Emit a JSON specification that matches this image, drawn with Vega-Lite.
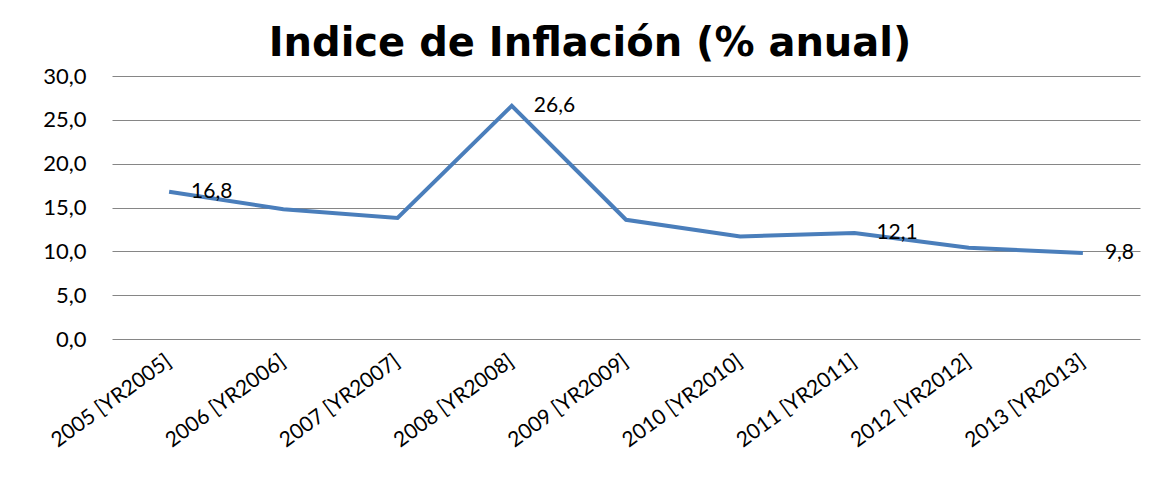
{
  "$schema": "https://vega.github.io/schema/vega-lite/v6.json",
  "width": 1028,
  "height": 263,
  "autosize": {"type": "none"},
  "padding": {"left": 112, "top": 76, "right": 26, "bottom": 144},
  "background": "white",
  "title": {
    "text": "Indice de Inflación (% anual)",
    "font": "DejaVu Sans",
    "fontSize": 40,
    "fontWeight": "bold",
    "color": "#000000",
    "anchor": "middle",
    "dx": -36,
    "offset": 1
  },
  "data": {
    "values": [
      {"anio": "2005 [YR2005]", "inflacion": 16.8},
      {"anio": "2006 [YR2006]", "inflacion": 14.8},
      {"anio": "2007 [YR2007]", "inflacion": 13.8},
      {"anio": "2008 [YR2008]", "inflacion": 26.6},
      {"anio": "2009 [YR2009]", "inflacion": 13.6},
      {"anio": "2010 [YR2010]", "inflacion": 11.7},
      {"anio": "2011 [YR2011]", "inflacion": 12.1},
      {"anio": "2012 [YR2012]", "inflacion": 10.4},
      {"anio": "2013 [YR2013]", "inflacion": 9.8}
    ]
  },
  "encoding": {
    "x": {
      "field": "anio",
      "type": "ordinal",
      "sort": null,
      "scale": {"type": "band", "paddingInner": 0, "paddingOuter": 0},
      "axis": {
        "title": null,
        "labelAngle": -36,
        "labelAlign": "right",
        "labelBaseline": "middle",
        "labelFont": "Lato",
        "labelFontSize": 21,
        "labelColor": "#000000",
        "labelPadding": 20,
        "ticks": false,
        "domain": false,
        "grid": false
      }
    },
    "y": {
      "field": "inflacion",
      "type": "quantitative",
      "scale": {"domain": [0, 30], "nice": false},
      "axis": {
        "title": null,
        "values": [0, 5, 10, 15, 20, 25, 30],
        "labelExpr": "replace(format(datum.value, '.1f'), '.', ',')",
        "labelFont": "Lato",
        "labelFontSize": 22,
        "labelColor": "#000000",
        "labelPadding": 26,
        "ticks": false,
        "domain": false,
        "grid": true,
        "gridColor": "#868686",
        "gridWidth": 1
      }
    }
  },
  "layer": [
    {
      "mark": {"type": "line", "color": "#4A7EBB", "strokeWidth": 4}
    },
    {
      "transform": [
        {"filter": "indexof(['2005 [YR2005]','2008 [YR2008]','2011 [YR2011]','2013 [YR2013]'], datum.anio) >= 0"},
        {"calculate": "replace(format(datum.inflacion, '.1f'), '.', ',')", "as": "etiqueta"}
      ],
      "mark": {"type": "text", "align": "left", "baseline": "middle", "dx": 22, "font": "Lato", "fontSize": 21, "color": "#000000"},
      "encoding": {"text": {"field": "etiqueta"}}
    }
  ],
  "config": {"view": {"stroke": null}}
}
